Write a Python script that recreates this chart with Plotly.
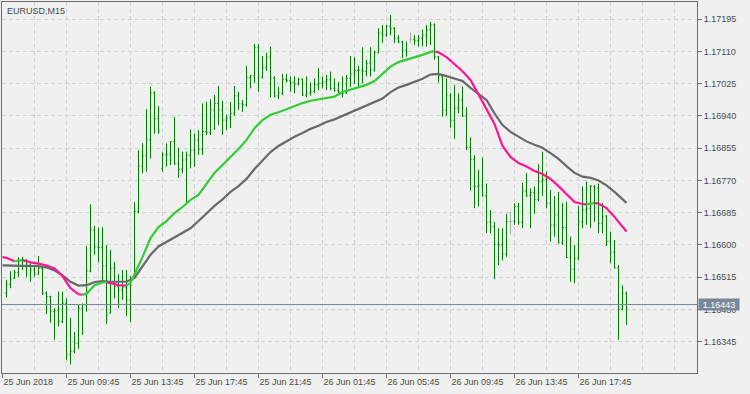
import plotly.graph_objects as go
import pandas as pd

# ---------------- data ----------------
symbol_label = "EURUSD,M15"
first_bar = "2018-06-25 06:00"
bar_minutes = 15

opens = [1.16473, 1.16496, 1.16512, 1.16528, 1.16558, 1.16543, 1.16547, 1.16534, 1.16523, 1.16538,
         1.16473, 1.16464, 1.16424, 1.16428, 1.16398, 1.16446, 1.16312, 1.16320, 1.16341, 1.16433,
         1.16442, 1.16531, 1.16639, 1.16595, 1.16593, 1.16545, 1.16420, 1.16538, 1.16490, 1.16481,
         1.16487, 1.16455, 1.16521, 1.16688, 1.16808, 1.16835, 1.16877, 1.17001, 1.16934, 1.16802,
         1.16837, 1.16839, 1.16872, 1.16815, 1.16799, 1.16824, 1.16837, 1.16850, 1.16877, 1.16852,
         1.16899, 1.16896, 1.16956, 1.16973, 1.16956, 1.16929, 1.16935, 1.16947, 1.16993, 1.16972,
         1.16969, 1.17042, 1.17046, 1.17121, 1.17042, 1.17068, 1.17095, 1.17039, 1.16993, 1.17000,
         1.17037, 1.17033, 1.17028, 1.17025, 1.17037, 1.16995, 1.17000, 1.17005, 1.17022, 1.17026,
         1.17030, 1.17035, 1.17013, 1.17008, 1.17004, 1.17000, 1.17039, 1.17051, 1.17060, 1.17061,
         1.17057, 1.17079, 1.17061, 1.17107, 1.17158, 1.17153, 1.17177, 1.17171, 1.17145, 1.17136,
         1.17114, 1.17142, 1.17142, 1.17139, 1.17145, 1.17153, 1.17167, 1.17180, 1.17096, 1.17045,
         1.16956, 1.16993, 1.16929, 1.16960, 1.16982, 1.16940, 1.16857, 1.16826, 1.16754, 1.16757,
         1.16730, 1.16660, 1.16648, 1.16602, 1.16600, 1.16576, 1.16662, 1.16662, 1.16701, 1.16660,
         1.16742, 1.16730, 1.16738, 1.16720, 1.16767, 1.16772, 1.16710, 1.16653, 1.16679, 1.16606,
         1.16646, 1.16567, 1.16536, 1.16565, 1.16661, 1.16692, 1.16697, 1.16754, 1.16750, 1.16657,
         1.16676, 1.16609, 1.16581, 1.16540, 1.16430, 1.16473]

highs = [1.16508, 1.16531, 1.16534, 1.16568, 1.16569, 1.16563, 1.16552, 1.16547, 1.16571, 1.16543,
         1.16477, 1.16466, 1.16433, 1.16477, 1.16477, 1.16459, 1.16408, 1.16371, 1.16444, 1.16446,
         1.16597, 1.16707, 1.16650, 1.16645, 1.16647, 1.16600, 1.16587, 1.16556, 1.16523, 1.16534,
         1.16534, 1.16518, 1.16713, 1.16850, 1.16868, 1.16958, 1.17017, 1.17005, 1.16966, 1.16844,
         1.16868, 1.16874, 1.16938, 1.16856, 1.16846, 1.16846, 1.16905, 1.16894, 1.16903, 1.16973,
         1.16978, 1.16984, 1.16995, 1.17019, 1.16980, 1.16943, 1.16977, 1.17019, 1.17004, 1.16982,
         1.17072, 1.17048, 1.17130, 1.17130, 1.17098, 1.17107, 1.17123, 1.17045, 1.17016, 1.17051,
         1.17051, 1.17044, 1.17045, 1.17041, 1.17039, 1.17044, 1.17028, 1.17039, 1.17066, 1.17044,
         1.17048, 1.17057, 1.17039, 1.17030, 1.17044, 1.17048, 1.17098, 1.17096, 1.17072, 1.17121,
         1.17088, 1.17121, 1.17112, 1.17171, 1.17180, 1.17180, 1.17206, 1.17174, 1.17153, 1.17138,
         1.17136, 1.17160, 1.17153, 1.17153, 1.17168, 1.17180, 1.17188, 1.17184, 1.17098, 1.17048,
         1.17039, 1.17000, 1.17022, 1.17000, 1.17017, 1.16963, 1.16884, 1.16837, 1.16798, 1.16831,
         1.16762, 1.16692, 1.16661, 1.16644, 1.16644, 1.16682, 1.16688, 1.16710, 1.16711, 1.16764,
         1.16790, 1.16749, 1.16754, 1.16813, 1.16846, 1.16793, 1.16745, 1.16729, 1.16740, 1.16711,
         1.16714, 1.16622, 1.16600, 1.16703, 1.16754, 1.16767, 1.16758, 1.16758, 1.16762, 1.16710,
         1.16679, 1.16635, 1.16613, 1.16547, 1.16494, 1.16477]

lows = [1.16462, 1.16486, 1.16510, 1.16516, 1.16534, 1.16516, 1.16503, 1.16516, 1.16522, 1.16468,
        1.16418, 1.16395, 1.16350, 1.16385, 1.16394, 1.16297, 1.16285, 1.16314, 1.16326, 1.16363,
        1.16424, 1.16528, 1.16574, 1.16555, 1.16500, 1.16392, 1.16420, 1.16459, 1.16433, 1.16455,
        1.16413, 1.16396, 1.16515, 1.16683, 1.16789, 1.16793, 1.16828, 1.16893, 1.16893, 1.16793,
        1.16806, 1.16811, 1.16811, 1.16777, 1.16789, 1.16710, 1.16802, 1.16806, 1.16837, 1.16837,
        1.16890, 1.16890, 1.16903, 1.16916, 1.16890, 1.16903, 1.16908, 1.16940, 1.16956, 1.16951,
        1.16964, 1.17013, 1.17027, 1.17004, 1.17039, 1.17059, 1.16989, 1.16989, 1.16985, 1.16995,
        1.17028, 1.17004, 1.17000, 1.17020, 1.16993, 1.16989, 1.16993, 1.17000, 1.17008, 1.17013,
        1.17008, 1.17008, 1.17004, 1.17000, 1.16989, 1.16998, 1.17016, 1.17024, 1.17017, 1.17026,
        1.17044, 1.17044, 1.17057, 1.17105, 1.17132, 1.17149, 1.17153, 1.17132, 1.17132, 1.17092,
        1.17096, 1.17132, 1.17127, 1.17123, 1.17123, 1.17123, 1.17127, 1.17088, 1.17028, 1.16938,
        1.16940, 1.16909, 1.16879, 1.16947, 1.16937, 1.16850, 1.16743, 1.16697, 1.16701, 1.16727,
        1.16631, 1.16631, 1.16510, 1.16547, 1.16559, 1.16569, 1.16628, 1.16653, 1.16653, 1.16644,
        1.16727, 1.16644, 1.16682, 1.16715, 1.16729, 1.16697, 1.16609, 1.16622, 1.16604, 1.16600,
        1.16565, 1.16503, 1.16499, 1.16560, 1.16644, 1.16653, 1.16644, 1.16661, 1.16631, 1.16631,
        1.16597, 1.16552, 1.16538, 1.16350, 1.16428, 1.16389]

closes = [1.16496, 1.16510, 1.16528, 1.16558, 1.16543, 1.16547, 1.16534, 1.16523, 1.16538, 1.16473,
          1.16464, 1.16424, 1.16428, 1.16398, 1.16446, 1.16312, 1.16320, 1.16341, 1.16433, 1.16442,
          1.16531, 1.16639, 1.16595, 1.16593, 1.16545, 1.16415, 1.16538, 1.16490, 1.16481, 1.16487,
          1.16455, 1.16494, 1.16688, 1.16808, 1.16835, 1.16877, 1.17001, 1.16934, 1.16900, 1.16837,
          1.16839, 1.16872, 1.16815, 1.16799, 1.16824, 1.16837, 1.16850, 1.16877, 1.16852, 1.16899,
          1.16896, 1.16956, 1.16973, 1.16956, 1.16929, 1.16935, 1.16947, 1.16993, 1.16972, 1.16969,
          1.17042, 1.17046, 1.17121, 1.17042, 1.17068, 1.17095, 1.17039, 1.16993, 1.17000, 1.17037,
          1.17033, 1.17028, 1.17025, 1.17037, 1.16995, 1.17000, 1.17005, 1.17022, 1.17026, 1.17030,
          1.17035, 1.17013, 1.17008, 1.17004, 1.17000, 1.17039, 1.17051, 1.17060, 1.17061, 1.17057,
          1.17079, 1.17061, 1.17107, 1.17158, 1.17153, 1.17177, 1.17171, 1.17145, 1.17136, 1.17114,
          1.17109, 1.17142, 1.17139, 1.17145, 1.17153, 1.17167, 1.17180, 1.17096, 1.17045, 1.16956,
          1.16993, 1.16929, 1.16960, 1.16982, 1.16940, 1.16857, 1.16826, 1.16754, 1.16757, 1.16730,
          1.16660, 1.16648, 1.16602, 1.16600, 1.16576, 1.16662, 1.16662, 1.16701, 1.16660, 1.16742,
          1.16730, 1.16738, 1.16720, 1.16767, 1.16772, 1.16710, 1.16653, 1.16679, 1.16606, 1.16646,
          1.16567, 1.16536, 1.16565, 1.16661, 1.16692, 1.16697, 1.16754, 1.16750, 1.16657, 1.16676,
          1.16609, 1.16581, 1.16540, 1.16430, 1.16473, 1.16443]

# fast moving average, sampled at bar offsets
fast_ma_bar = [-1, 0, 2, 4, 6, 8, 10, 12, 14, 16, 18, 19, 20, 22, 24, 25, 26, 28, 30, 31, 32, 34, 36, 38,
               40, 42, 44, 46, 48, 50, 52, 54, 56, 58, 60, 62, 64, 66, 68, 70, 72, 74, 76, 78, 80, 82,
               84, 86, 88, 90, 92, 94, 96, 98, 100, 102, 104, 106, 107, 108, 110, 112, 114, 116, 118,
               120, 122, 124, 126, 128, 130, 132, 134, 136, 138, 140, 142, 144, 145, 146, 147, 148,
               150, 152, 154, 155]
fast_ma = [1.16568, 1.16566, 1.16557, 1.16560, 1.16554, 1.16551, 1.16546, 1.16538, 1.16518, 1.16486,
           1.16470, 1.16469, 1.16471, 1.16494, 1.16501, 1.16502, 1.16499, 1.16494, 1.16493, 1.16500,
           1.16523, 1.16568, 1.16618, 1.16647, 1.16663, 1.16684, 1.16700, 1.16719, 1.16732, 1.16761,
           1.16790, 1.16811, 1.16832, 1.16853, 1.16877, 1.16908, 1.16929, 1.16943, 1.16950, 1.16958,
           1.16968, 1.16974, 1.16980, 1.16983, 1.16987, 1.16991, 1.17003, 1.17010, 1.17016, 1.17022,
           1.17032, 1.17052, 1.17070, 1.17082, 1.17088, 1.17093, 1.17101, 1.17109, 1.17110, 1.17108,
           1.17095, 1.17077, 1.17058, 1.17035, 1.16998, 1.16958, 1.16919, 1.16861, 1.16832, 1.16816,
           1.16807, 1.16795, 1.16787, 1.16774, 1.16755, 1.16734, 1.16713, 1.16708, 1.16707, 1.16709,
           1.16711, 1.16709, 1.16697, 1.16674, 1.16648, 1.16635]

# slow moving average, sampled at bar offsets
slow_ma_bar = [-1, 0, 4, 8, 10, 12, 14, 16, 18, 20, 22, 24, 26, 28, 30, 32, 34, 36, 38, 40, 42, 44, 46,
               48, 50, 52, 54, 56, 58, 60, 62, 64, 66, 68, 70, 72, 74, 76, 78, 80, 82, 84, 86, 88, 90,
               92, 94, 96, 98, 100, 102, 104, 106, 108, 110, 112, 114, 116, 118, 120, 122, 124, 126,
               128, 130, 132, 134, 136, 138, 140, 142, 144, 146, 148, 150, 152, 154, 155]
slow_ma = [1.16546, 1.16546, 1.16545, 1.16544, 1.16541, 1.16533, 1.16520, 1.16503, 1.16493, 1.16494,
           1.16502, 1.16505, 1.16503, 1.16503, 1.16503, 1.16513, 1.16542, 1.16574, 1.16596, 1.16608,
           1.16620, 1.16632, 1.16644, 1.16663, 1.16684, 1.16703, 1.16720, 1.16740, 1.16755, 1.16774,
           1.16800, 1.16824, 1.16845, 1.16861, 1.16874, 1.16885, 1.16895, 1.16906, 1.16914, 1.16924,
           1.16931, 1.16940, 1.16950, 1.16960, 1.16969, 1.16977, 1.16986, 1.17003, 1.17015, 1.17022,
           1.17030, 1.17038, 1.17049, 1.17051, 1.17045, 1.17038, 1.17032, 1.17014, 1.16998, 1.16982,
           1.16947, 1.16916, 1.16898, 1.16885, 1.16873, 1.16864, 1.16856, 1.16842, 1.16827, 1.16808,
           1.16790, 1.16780, 1.16777, 1.16770, 1.16757, 1.16740, 1.16720, 1.16711]

current_price = 1.16443

price_ticks = [1.16345, 1.16430, 1.16515, 1.16600, 1.16685, 1.16770, 1.16855, 1.16940, 1.17025,
               1.17110, 1.17195]
time_ticks = ["2018-06-25 05:45", "2018-06-25 09:45", "2018-06-25 13:45", "2018-06-25 17:45",
              "2018-06-25 21:45", "2018-06-26 01:45", "2018-06-26 05:45", "2018-06-26 09:45",
              "2018-06-26 13:45", "2018-06-26 17:45"]
time_labels = ["25 Jun 2018", "25 Jun 09:45", "25 Jun 13:45", "25 Jun 17:45", "25 Jun 21:45",
               "26 Jun 01:45", "26 Jun 05:45", "26 Jun 09:45", "26 Jun 13:45", "26 Jun 17:45"]

x_view = ["2018-06-25 05:43:07.5", "2018-06-27 01:09:22.5"]
y_view = [1.162625, 1.172404]

# ---------------- styles ----------------
BG = "#F0F0F0"
BAR = "#008000"
DOJI = "#A8A8A8"
UP = "#32CD32"
DOWN = "#FF1493"
SLOW = "#696969"
GRID = "#D2D2D2"
AXIS = "#6E6E6E"
TEXT = "#4A4A4A"
PRICE = "#778899"
FONT = "Liberation Sans, Arial, sans-serif"

t0 = pd.Timestamp(first_bar)
step = pd.Timedelta(minutes=bar_minutes)
times = [t0 + step * i for i in range(len(opens))]

fig = go.Figure()

normal = [i for i in range(len(opens)) if opens[i] != closes[i]]
doji = [i for i in range(len(opens)) if opens[i] == closes[i]]


def ohlc_trace(idx, color):
    return go.Ohlc(
        x=[times[i] for i in idx],
        open=[opens[i] for i in idx],
        high=[highs[i] for i in idx],
        low=[lows[i] for i in idx],
        close=[closes[i] for i in idx],
        increasing=dict(line=dict(color=color, width=1)),
        decreasing=dict(line=dict(color=color, width=1)),
        tickwidth=0.3,
        hoverinfo="skip",
        showlegend=False,
    )


fig.add_trace(ohlc_trace(normal, BAR))
if doji:
    fig.add_trace(ohlc_trace(doji, DOJI))

# slow MA
fig.add_trace(go.Scatter(
    x=[t0 + step * b for b in slow_ma_bar], y=slow_ma, mode="lines",
    line=dict(color=SLOW, width=2.2), hoverinfo="skip", showlegend=False))

# fast MA coloured by direction
fx = [t0 + step * b for b in fast_ma_bar]
runs = {True: ([], []), False: ([], [])}
prev = None
for k in range(1, len(fx)):
    d = fast_ma[k] > fast_ma[k - 1]
    xs, ys = runs[d]
    if d != prev:
        if xs:
            xs.append(None)
            ys.append(None)
        xs.append(fx[k - 1])
        ys.append(fast_ma[k - 1])
    xs.append(fx[k])
    ys.append(fast_ma[k])
    prev = d

for d, col in ((False, DOWN), (True, UP)):
    xs, ys = runs[d]
    fig.add_trace(go.Scatter(x=xs, y=ys, mode="lines", line=dict(color=col, width=2.2),
                             hoverinfo="skip", showlegend=False, connectgaps=False))

# current price line + label
fig.add_shape(type="line", xref="paper", x0=0, x1=1, yref="y", y0=current_price, y1=current_price,
              line=dict(color=PRICE, width=1))
fig.add_annotation(xref="paper", x=1, yref="y", y=current_price, xanchor="left", yanchor="middle",
                   text=f"{current_price:.5f}", showarrow=False, bgcolor=PRICE,
                   font=dict(family=FONT, size=9, color="white"), width=38, height=9,
                   borderpad=1, xshift=1)

fig.add_annotation(xref="paper", yref="paper", x=0, y=1, xanchor="left", yanchor="top",
                   text=symbol_label, showarrow=False, xshift=3, yshift=-2,
                   font=dict(family=FONT, size=9, color=TEXT))

fig.update_layout(
    width=750, height=394,
    margin=dict(l=2, r=53, t=2, b=21, autoexpand=False),
    paper_bgcolor=BG, plot_bgcolor=BG,
    font=dict(family=FONT, size=9, color=TEXT),
    xaxis=dict(
        type="date", range=x_view, rangeslider=dict(visible=False),
        tickvals=time_ticks, ticktext=time_labels, ticklabelposition="outside right",
        ticks="outside", ticklen=4, tickcolor=AXIS,
        showgrid=True, gridcolor=GRID, griddash="4px,3px", gridwidth=1,
        minor=dict(dtick=2 * 3600 * 1000, tick0="2018-06-25 05:45", showgrid=True,
                   gridcolor=GRID, griddash="4px,3px", ticks=""),
        showline=True, linecolor=AXIS, linewidth=1, mirror=True, zeroline=False,
        fixedrange=True, automargin=False,
    ),
    yaxis=dict(
        side="right", range=y_view, tickvals=price_ticks, tickformat=".5f",
        ticks="outside", ticklen=4, tickcolor=AXIS,
        showgrid=True, gridcolor=GRID, griddash="4px,3px", gridwidth=1,
        showline=True, linecolor=AXIS, linewidth=1, mirror=True, zeroline=False,
        fixedrange=True, automargin=False,
    ),
)

fig.write_html("out.html", config={"displayModeBar": False},
               post_script="document.body.style.margin='0px';document.body.style.background='#F0F0F0';")
